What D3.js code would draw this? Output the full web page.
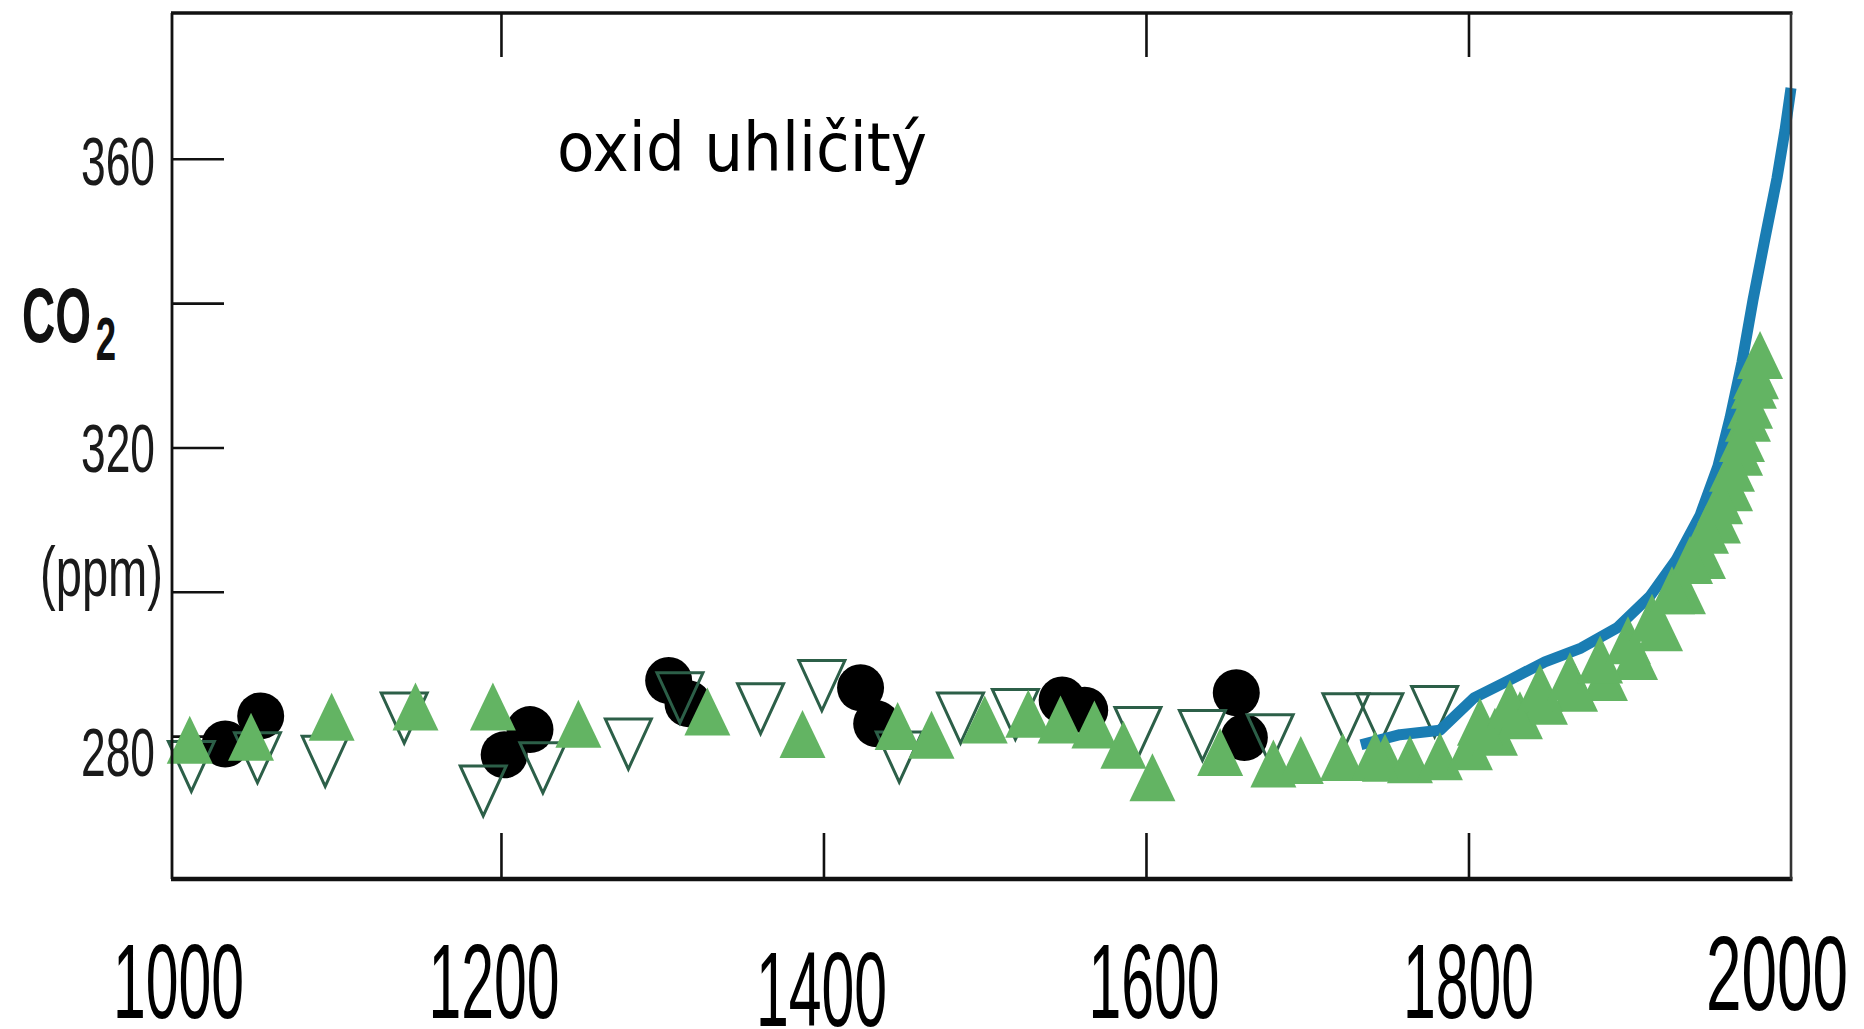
<!DOCTYPE html>
<html>
<head>
<meta charset="utf-8">
<script src="https://cdn.jsdelivr.net/npm/d3@7"></script>
<style>
html,body{margin:0;padding:0;background:#fff;overflow:hidden}
svg{display:block}
</style>
</head>
<body>
<svg id="chart" width="1864" height="1029"></svg>
<script>
// ---------------- DATA ----------------
const title = "oxid uhličitý";
const xDomain = [996, 2000];
const yDomain = [260.2, 380.2];
const xTickValues = [1000, 1200, 1400, 1600, 1800, 2000];
const xTickLabels = ["1000", "1200", "1400", "1600", "1800", "2000"];
const bottomTickValues = [1200, 1400, 1600, 1800];
const topTickValues = [1200, 1600, 1800];
const yTickValues = [280, 300, 320, 340, 360];
const yLabelValues = [280, 320, 360];
const yLabelTexts = ["280", "320", "360"];

// black filled circles
const circleYears = [1029, 1051, 1202, 1218, 1304, 1316, 1423, 1433, 1548, 1562, 1656, 1661];
const circlePpm   = [278.9, 282.8, 277.4, 280.9, 287.7, 284.5, 286.7, 281.7, 285.0, 283.6, 286.0, 279.8];

// open (outline) downward triangles
const openYears = [1008, 1049, 1091, 1140, 1189, 1226, 1279, 1311, 1361, 1399, 1447, 1485, 1519, 1595, 1635, 1677, 1724, 1745, 1779];
const openPpm   = [275.8, 277.0, 276.5, 282.5, 272.4, 275.6, 278.9, 285.3, 283.8, 287.0, 277.1, 282.5, 283.0, 280.5, 280.1, 279.5, 282.4, 282.4, 283.4];

// green filled upward triangles, record before ~1740
const greenYears = [1007, 1045, 1095, 1147, 1195, 1248, 1328, 1387, 1446, 1467, 1500, 1527, 1547, 1568, 1586, 1604, 1646, 1679, 1696, 1722, 1742];
const greenPpm   = [279.5, 279.9, 282.7, 284.1, 284.1, 281.7, 283.4, 280.3, 281.4, 280.2, 282.3, 283.1, 282.3, 281.6, 278.8, 274.3, 277.8, 276.2, 276.7, 277.1, 277.4];

// green filled upward triangles, dense band after ~1740 (lower and upper side of the band)
const bandYears = [1748.2, 1763.7, 1782.3, 1800.9, 1816.4, 1831.9, 1847.4, 1866.1, 1884.6, 1903.3, 1918.8, 1933.0, 1945.4, 1954.7, 1962.2, 1968.4, 1973.3, 1977.0,
  1807.1, 1825.7, 1844.3, 1862.9, 1881.6, 1898.9, 1913.8, 1926.2, 1937.4, 1947.3, 1956.0, 1963.4, 1969.6, 1974.6, 1978.3, 1980.8];
const bandPpm = [277.0, 276.8, 277.2, 278.6, 280.6, 282.9, 284.9, 286.7, 288.2, 291.1, 295.1, 300.2, 305.1, 310.0, 314.5, 319.4, 324.1, 328.7,
  282.0, 284.5, 286.7, 288.3, 290.6, 293.3, 296.4, 300.2, 304.4, 308.6, 312.7, 317.2, 321.3, 325.9, 330.0, 332.8];

// blue line
const blueYears = [1733.3, 1757.5, 1782.3, 1803.4, 1825.7, 1847.4, 1869.8, 1892.1, 1912.6, 1928.7, 1943.6, 1954.7, 1962.2, 1969.6, 1976.4, 1983.9, 1991.3, 1996.3, 2000];
const bluePpm   = [278.8, 280.2, 280.8, 285.3, 287.8, 290.3, 292.2, 295.0, 299.4, 304.4, 310.6, 317.4, 324.1, 331.8, 340.4, 349.0, 357.3, 364.0, 369.8];

// ---------------- STYLE ----------------
const W = 1864, H = 1029;
const plot = {left: 172, right: 1791, top: 13, bottom: 879};
const colors = {green: "#63b463", openStroke: "#2c5f48", blue: "#1a7db3", black: "#000", axis: "#111"};
const xLabelStyle = {size: 106, baseline: 1018};
const xLabelAdjust = {"1000": [0, 0, 131], "1200": [-7, 0, 131], "1400": [-2, 8, 131], "1600": [8, 0, 131], "1800": [0, 0, 131], "2000": [-14, -8, 142]};
const yLabelAdjust = {"280": 40, "320": 25, "360": 26};

// ---------------- SCALES ----------------
const x = d3.scaleLinear().domain(xDomain).range([plot.left, plot.right]);
const y = d3.scaleLinear().domain(yDomain).range([plot.bottom, plot.top]);

const svg = d3.select("#chart");
svg.append("rect").attr("width", W).attr("height", H).attr("fill", "#fff");

// ---------------- TICKS ----------------
const gB = svg.append("g").attr("transform", `translate(0,${plot.bottom})`)
  .call(d3.axisBottom(x).tickValues(bottomTickValues).tickSize(-46).tickFormat(""));
const gT = svg.append("g").attr("transform", `translate(0,${plot.top})`)
  .call(d3.axisTop(x).tickValues(topTickValues).tickSize(-44).tickFormat(""));
const gL = svg.append("g").attr("transform", `translate(${plot.left},0)`)
  .call(d3.axisLeft(y).tickValues(yTickValues).tickSize(-52).tickFormat(""));
[gB, gT, gL].forEach(g => {
  g.select(".domain").remove();
  g.selectAll(".tick line").attr("stroke", colors.axis).attr("stroke-width", 2.6);
});

// ---------------- MARKERS ----------------
const upTri = (w, h) => `M0,${-h/2}L${w/2},${h/2}L${-w/2},${h/2}Z`;
const downTri = (w, h) => `M${-w/2},${-h/2}L${w/2},${-h/2}L0,${h/2}Z`;
const zip = (a, b) => a.map((d, i) => ({year: d, ppm: b[i]}));

const circles = zip(circleYears, circlePpm);
const opens = zip(openYears, openPpm);
const greens = zip(greenYears, greenPpm);
const band = zip(bandYears, bandPpm);
const blues = zip(blueYears, bluePpm);

svg.append("g").selectAll("circle").data(circles).join("circle")
  .attr("cx", d => x(d.year)).attr("cy", d => y(d.ppm)).attr("r", 23.5)
  .attr("fill", colors.black);

svg.append("g").selectAll("path").data(opens).join("path")
  .attr("transform", d => `translate(${x(d.year)},${y(d.ppm)})`)
  .attr("d", downTri(46, 50))
  .attr("fill", "none").attr("stroke", colors.openStroke).attr("stroke-width", 3);

svg.append("path").datum(blues)
  .attr("d", d3.line().x(d => x(d.year)).y(d => y(d.ppm)))
  .attr("fill", "none").attr("stroke", colors.blue).attr("stroke-width", 11)
  .attr("stroke-linejoin", "round");

svg.append("g").selectAll("path").data(band).join("path")
  .attr("transform", d => `translate(${x(d.year)},${y(d.ppm)})`)
  .attr("d", upTri(46, 48))
  .attr("fill", colors.green);

svg.append("g").selectAll("path").data(greens).join("path")
  .attr("transform", d => `translate(${x(d.year)},${y(d.ppm)})`)
  .attr("d", upTri(46, 48))
  .attr("fill", colors.green);

// ---------------- FRAME ----------------
const frame = svg.append("g").attr("stroke", colors.axis).attr("fill", "none");
frame.append("line").attr("x1", plot.left - 1).attr("x2", plot.right + 1.5).attr("y1", plot.top).attr("y2", plot.top).attr("stroke-width", 3.6);
frame.append("line").attr("x1", plot.left - 1).attr("x2", plot.right + 1.5).attr("y1", plot.bottom).attr("y2", plot.bottom).attr("stroke-width", 4.6);
frame.append("line").attr("x1", plot.left).attr("x2", plot.left).attr("y1", plot.top).attr("y2", plot.bottom).attr("stroke-width", 2.8);
frame.append("line").attr("x1", plot.right).attr("x2", plot.right).attr("y1", plot.top).attr("y2", plot.bottom).attr("stroke-width", 2.6).attr("stroke", "#333");

// ---------------- LABELS ----------------
const labelFont = "'Liberation Sans', Arial, Helvetica, sans-serif";
svg.append("g").selectAll("text").data(xTickValues).join("text")
  .attr("x", (d, i) => x(d) + xLabelAdjust[xTickLabels[i]][0])
  .attr("y", (d, i) => xLabelStyle.baseline + xLabelAdjust[xTickLabels[i]][1])
  .attr("text-anchor", "middle")
  .attr("font-family", labelFont).attr("font-size", xLabelStyle.size)
  .attr("textLength", (d, i) => xLabelAdjust[xTickLabels[i]][2])
  .attr("lengthAdjust", "spacingAndGlyphs")
  .attr("fill", "#000")
  .text((d, i) => xTickLabels[i]);

svg.append("g").selectAll("text").data(yLabelValues).join("text")
  .attr("x", 155)
  .attr("y", (d, i) => y(d) + yLabelAdjust[yLabelTexts[i]])
  .attr("text-anchor", "end")
  .attr("font-family", labelFont).attr("font-size", 68)
  .attr("textLength", 74).attr("lengthAdjust", "spacingAndGlyphs")
  .attr("fill", "#1a1a1a")
  .text((d, i) => yLabelTexts[i]);

// CO2 (ppm) axis title
const co2 = svg.append("text")
  .attr("transform", "translate(22,342) scale(0.59,1)")
  .attr("font-family", labelFont).attr("font-size", 78).attr("font-weight", 700)
  .attr("fill", "#111");
co2.append("tspan").text("CO");
co2.append("tspan").attr("dx", 8).attr("dy", 18).attr("font-size", 62).text("2");

svg.append("text").attr("x", 40).attr("y", 596)
  .attr("font-family", labelFont).attr("font-size", 70)
  .attr("textLength", 123).attr("lengthAdjust", "spacingAndGlyphs").attr("fill", "#1a1a1a")
  .text("(ppm)");

// chart title
svg.append("text").attr("x", 557).attr("y", 171)
  .attr("font-family", "'Comic Sans MS', 'DejaVu Sans', sans-serif").attr("font-size", 68)
  .attr("textLength", 370).attr("lengthAdjust", "spacingAndGlyphs").attr("fill", "#000")
  .text(title);
</script>
</body>
</html>
